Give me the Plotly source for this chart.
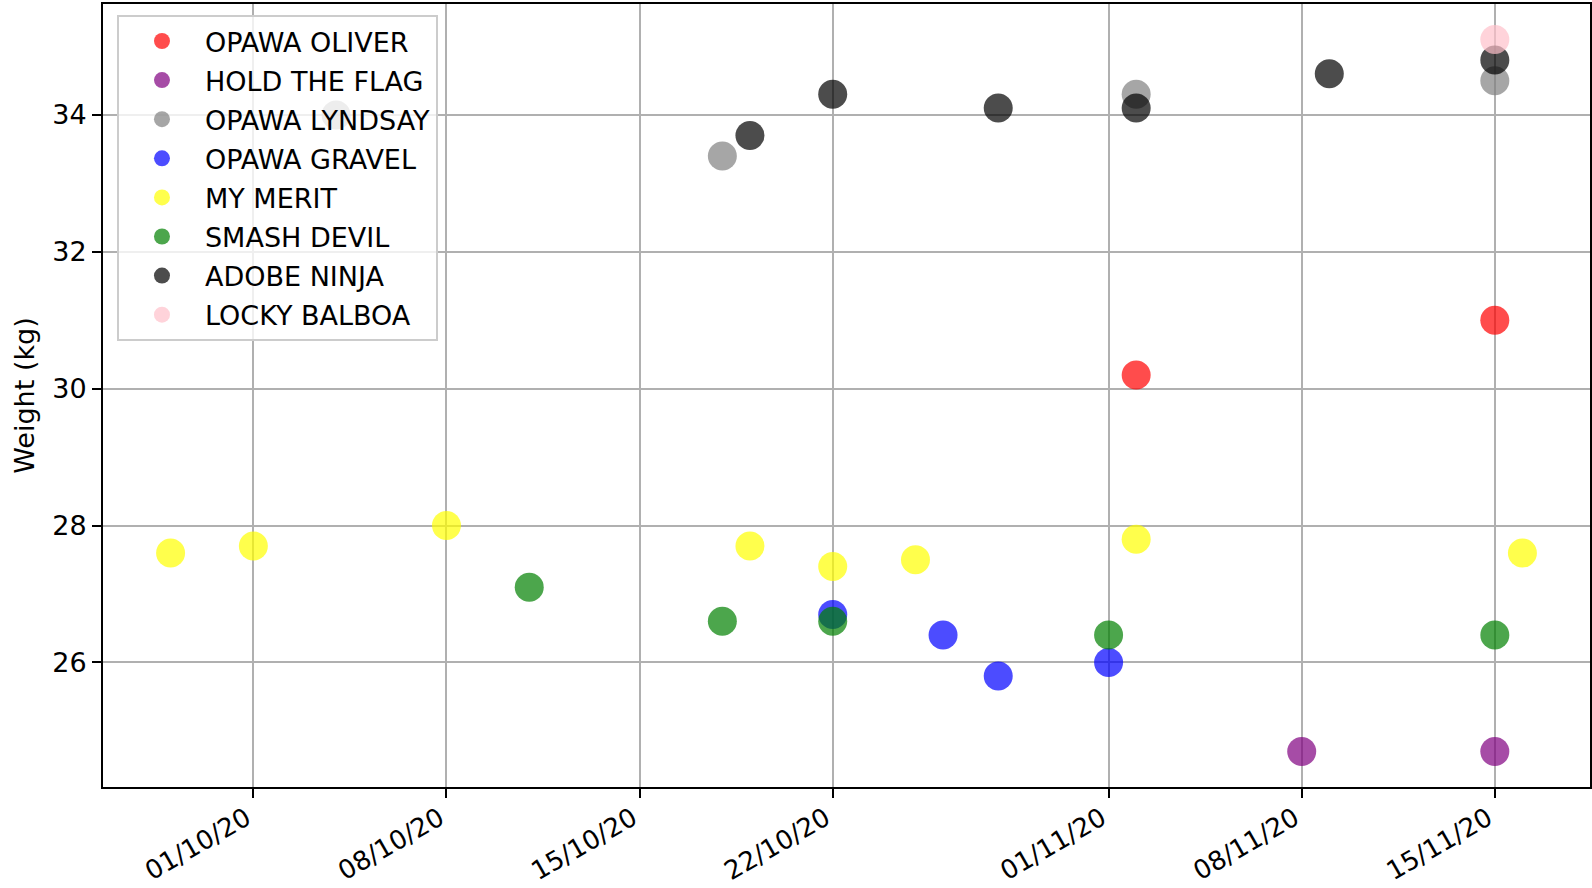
import plotly.graph_objects as go

# ---- data ----
names = ["OPAWA OLIVER", "HOLD THE FLAG", "OPAWA LYNDSAY", "OPAWA GRAVEL",
         "MY MERIT", "SMASH DEVIL", "ADOBE NINJA", "LOCKY BALBOA"]
colors = ["red", "purple", "grey", "blue", "yellow", "green", "black", "pink"]

oliver_dates = ["2020-11-02", "2020-11-15"]
oliver_w = [30.2, 31.0]

flag_dates = ["2020-11-08", "2020-11-15"]
flag_w = [24.7, 24.7]

lyndsay_dates = ["2020-10-04", "2020-10-18", "2020-11-02", "2020-11-15"]
lyndsay_w = [34.0, 33.4, 34.3, 34.5]

gravel_dates = ["2020-10-22", "2020-10-26", "2020-10-28", "2020-11-01"]
gravel_w = [26.7, 26.4, 25.8, 26.0]

merit_dates = ["2020-09-28", "2020-10-01", "2020-10-08", "2020-10-19",
               "2020-10-22", "2020-10-25", "2020-11-02", "2020-11-16"]
merit_w = [27.6, 27.7, 28.0, 27.7, 27.4, 27.5, 27.8, 27.6]

devil_dates = ["2020-10-11", "2020-10-18", "2020-10-22", "2020-11-01", "2020-11-15"]
devil_w = [27.1, 26.6, 26.6, 26.4, 26.4]

ninja_dates = ["2020-10-19", "2020-10-22", "2020-10-28", "2020-11-02",
               "2020-11-09", "2020-11-15"]
ninja_w = [33.7, 34.3, 34.1, 34.1, 34.6, 34.8]

locky_dates = ["2020-11-15"]
locky_w = [35.1]

series_dates = [oliver_dates, flag_dates, lyndsay_dates, gravel_dates,
                merit_dates, devil_dates, ninja_dates, locky_dates]
series_w = [oliver_w, flag_w, lyndsay_w, gravel_w,
            merit_w, devil_w, ninja_w, locky_w]

tick_dates = ["2020-10-01", "2020-10-08", "2020-10-15", "2020-10-22",
              "2020-11-01", "2020-11-08", "2020-11-15"]
tick_labels = ["01/10/20", "08/10/20", "15/10/20", "22/10/20",
               "01/11/20", "08/11/20", "15/11/20"]
y_ticks = [26, 28, 30, 32, 34]

FONT = "DejaVu Sans"
FS = 27

fig = go.Figure()
for n, c, d, w in zip(names, colors, series_dates, series_w):
    fig.add_trace(go.Scatter(
        x=d, y=w, mode="markers", name=n, legendgroup=n,
        marker=dict(color=c, size=29, opacity=0.7, line=dict(width=0)),
    ))

axis_common = dict(
    showline=True, linecolor="black", linewidth=2, mirror=True,
    showgrid=True, gridcolor="#b0b0b0", gridwidth=2,
    ticks="outside", ticklen=9, tickwidth=2, tickcolor="black",
    zeroline=False,
)

fig.update_layout(
    width=1592, height=888,
    margin=dict(l=103, r=2, t=4, b=101),
    paper_bgcolor="white", plot_bgcolor="white",
    font=dict(family=FONT, size=FS, color="black"),
    showlegend=True,
    legend=dict(
        x=0.0094, y=0.986, xanchor="left", yanchor="top",
        bgcolor="rgba(255,255,255,0.8)", bordercolor="#cccccc", borderwidth=2,
        font=dict(family=FONT, size=FS, color="black"),
        itemwidth=76, tracegroupgap=1,
    ),
    xaxis=dict(
        type="date",
        range=["2020-09-25 13:12", "2020-11-18 10:48"],
        tickmode="array", tickvals=tick_dates, ticktext=tick_labels,
        tickangle=-30, automargin=False,
        ticklabelshift=-7, ticklabelstandoff=-5,
        tickfont=dict(family=FONT, size=26, color="black"),
        **axis_common,
    ),
    yaxis=dict(
        range=[24.18, 35.62],
        tickmode="array", tickvals=y_ticks, ticktext=[str(v) for v in y_ticks],
        automargin=False,
        tickfont=dict(family=FONT, size=FS, color="black"),
        title=dict(text="Weight (kg)", font=dict(family=FONT, size=FS), standoff=10),
        **axis_common,
    ),
)

fig.write_html("out.html", config={"displayModeBar": False},
               post_script="document.body.style.margin='0';")
